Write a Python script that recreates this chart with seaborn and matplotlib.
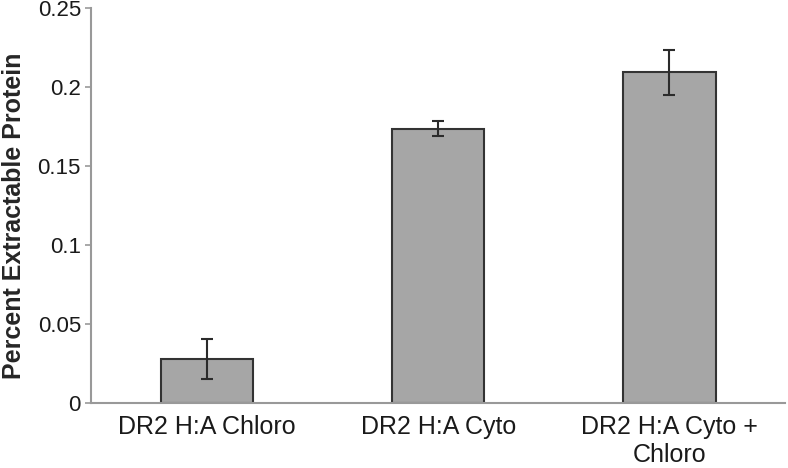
import matplotlib
matplotlib.use("Agg")
import matplotlib.pyplot as plt
import seaborn as sns
import pandas as pd

# values
categories = ["DR2 H:A Chloro", "DR2 H:A Cyto", "DR2 H:A Cyto +\nChloro"]
percent = [0.028, 0.174, 0.2095]
errors = [0.0127, 0.0045, 0.0143]
y_ticks = [0, 0.05, 0.1, 0.15, 0.2, 0.25]
y_tick_labels = ["0", "0.05", "0.1", "0.15", "0.2", "0.25"]

sns.set_style("white")
plt.rcParams['font.family'] = ['Liberation Sans', 'DejaVu Sans']

df = pd.DataFrame({"group": categories, "value": percent})

fig, ax = plt.subplots(figsize=(7.88, 4.68), dpi=100)
fig.subplots_adjust(left=0.116, right=0.996, top=0.982, bottom=0.138)

sns.barplot(data=df, x="group", y="value", color="#a6a6a6", saturation=1,
            width=0.4, edgecolor="#333333", linewidth=1.5, errorbar=None, ax=ax)
ax.errorbar(range(len(categories)), percent, yerr=errors, fmt="none",
            ecolor="#2b2b2b", elinewidth=1.5, capsize=4, capthick=1.5)

ax.set_xlim(-0.5, 2.5)
ax.set_ylim(0, 0.25)
ax.set_yticks(y_ticks)
ax.set_yticklabels(y_tick_labels)
ax.set_xlabel("")
ax.set_ylabel("Percent Extractable Protein", fontsize=18, fontweight="bold")
ax.yaxis.set_label_coords(-0.094, 0.474)

ax.set_xticks([-0.5, 0.5, 1.5, 2.5], minor=True)
ax.tick_params(axis="x", which="major", length=0, labelsize=18, pad=8.5, colors="#1a1a1a")
ax.tick_params(axis="x", which="minor", length=5, width=1.2, color="#999999", direction="out")
ax.tick_params(axis="y", length=4, width=1.2, color="#999999", direction="out",
               labelsize=16, labelcolor="#1a1a1a", left=True, pad=3.5)

for side in ["top", "right"]:
    ax.spines[side].set_visible(False)
for side in ["left", "bottom"]:
    ax.spines[side].set_color("#999999")
    ax.spines[side].set_linewidth(1.5)

fig.savefig("out.png", dpi=100)
